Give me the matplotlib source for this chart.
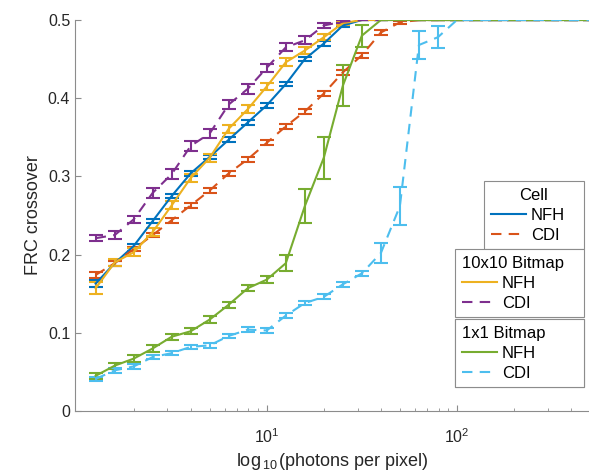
import numpy as np
import matplotlib
matplotlib.use("Agg")
import matplotlib.pyplot as plt
from matplotlib.lines import Line2D

plt.rcParams['font.family'] = ['Liberation Sans', 'DejaVu Sans']
plt.rcParams['mathtext.fontset'] = 'custom'
plt.rcParams['mathtext.rm'] = 'Liberation Sans'

# --- Data (photons per pixel = 10^(k/10), k = 1..27) ---
photons = 10 ** (np.arange(1, 28) / 10)

cell_nfh = [0.163, 0.189, 0.211, 0.243, 0.275, 0.304, 0.325, 0.347, 0.369, 0.391,
            0.418, 0.450, 0.470, 0.493] + [0.5] * 13
cell_nfh_err = [0.004, 0.003, 0.003, 0.003, 0.003, 0.003, 0.003, 0.003, 0.003, 0.003,
                0.003, 0.003, 0.003, 0.002] + [0.0] * 13

cell_cdi = [0.174, 0.189, 0.207, 0.225, 0.244, 0.263, 0.282, 0.304, 0.322, 0.343,
            0.364, 0.383, 0.406, 0.433, 0.455, 0.484, 0.497] + [0.5] * 10
cell_cdi_err = [0.004, 0.003, 0.003, 0.003, 0.003, 0.003, 0.003, 0.003, 0.003, 0.003,
                0.003, 0.003, 0.003, 0.003, 0.003, 0.003, 0.002] + [0.0] * 10

bm10_nfh = [0.157, 0.190, 0.203, 0.229, 0.263, 0.298, 0.324, 0.361, 0.386, 0.415,
            0.446, 0.461, 0.478, 0.496] + [0.5] * 13
bm10_nfh_err = [0.008, 0.004, 0.005, 0.005, 0.005, 0.005, 0.005, 0.005, 0.005, 0.005,
                0.005, 0.004, 0.004, 0.002] + [0.0] * 13

bm10_cdi = [0.221, 0.225, 0.245, 0.279, 0.303, 0.339, 0.355, 0.392, 0.412, 0.439,
            0.465, 0.474, 0.493, 0.498] + [0.5] * 13
bm10_cdi_err = [0.004, 0.005, 0.005, 0.006, 0.006, 0.006, 0.006, 0.006, 0.006, 0.005,
                0.005, 0.005, 0.003, 0.002] + [0.0] * 13

bm1_nfh = [0.045, 0.058, 0.067, 0.080, 0.095, 0.102, 0.117, 0.136, 0.157, 0.168,
           0.189, 0.262, 0.324, 0.416, 0.480] + [0.5] * 12
bm1_nfh_err = [0.004, 0.004, 0.004, 0.004, 0.004, 0.004, 0.004, 0.004, 0.004, 0.004,
               0.010, 0.022, 0.027, 0.026, 0.014] + [0.0] * 12

bm1_cdi = [0.041, 0.052, 0.057, 0.069, 0.074, 0.082, 0.084, 0.096, 0.104, 0.103,
           0.122, 0.138, 0.146, 0.162, 0.176, 0.202, 0.262, 0.468, 0.478] + [0.5] * 8
bm1_cdi_err = [0.003, 0.003, 0.003, 0.003, 0.003, 0.003, 0.003, 0.003, 0.003, 0.003,
               0.003, 0.003, 0.003, 0.003, 0.003, 0.013, 0.024, 0.018, 0.014] + [0.0] * 8

c_blue = '#0072BD'
c_orange = '#D95319'
c_yellow = '#EDB120'
c_purple = '#7E2F8E'
c_green = '#77AC30'
c_lblue = '#4DBEEE'
dash = (0, (5, 3.5))

series = [
    (cell_nfh, cell_nfh_err, c_blue, '-'),
    (cell_cdi, cell_cdi_err, c_orange, dash),
    (bm10_nfh, bm10_nfh_err, c_yellow, '-'),
    (bm10_cdi, bm10_cdi_err, c_purple, dash),
    (bm1_nfh, bm1_nfh_err, c_green, '-'),
    (bm1_cdi, bm1_cdi_err, c_lblue, dash),
]

# --- Plot ---
fig = plt.figure(figsize=(5.89, 4.71), dpi=100)
ax = fig.add_axes([75 / 589, 60 / 471, 514 / 589, 391 / 471])

for y, e, c, ls in series:
    cont = ax.errorbar(photons, y, yerr=e, color=c, lw=1.5, capsize=5,
                       capthick=1.5, elinewidth=1.5)
    cont[0].set_linestyle(ls)

ax.set_xscale('log')
ax.set_xlim(0.98, 495)
ax.set_ylim(0, 0.5)
ax.set_yticks([0, 0.1, 0.2, 0.3, 0.4, 0.5])
ax.set_yticklabels(['0', '0.1', '0.2', '0.3', '0.4', '0.5'])
ax.set_xticks([10, 100])

for s in ['top', 'right']:
    ax.spines[s].set_visible(False)
for s in ['left', 'bottom']:
    ax.spines[s].set_color('#8c8c8c')
    ax.spines[s].set_linewidth(0.8)
ax.tick_params(which='both', direction='in', colors='#8c8c8c', labelcolor='#262626',
               labelsize=11.5)
ax.tick_params(which='major', length=4)
ax.tick_params(which='minor', length=2.5)
ax.tick_params(axis='x', pad=12)

ax.set_ylabel('FRC crossover', fontsize=13, color='#262626')
ax.set_xlabel(r'log$_{\,10\,}$(photons per pixel)', fontsize=13, color='#262626', labelpad=3)


def make_legend(title, c1, c2, x0, w, top, align):
    h = [Line2D([], [], color=c1, lw=1.5), Line2D([], [], color=c2, lw=1.5, ls=dash)]
    leg = ax.legend(h, ['NFH', 'CDI'], title=title, loc='upper left',
                    bbox_to_anchor=(x0, top - 0.3, w, 0.3), mode='expand',
                    fontsize=12, title_fontsize=12, frameon=True, fancybox=False,
                    edgecolor='#8c8c8c', framealpha=1, borderpad=0.4,
                    labelspacing=0.3, handlelength=2.1, handletextpad=0.3,
                    borderaxespad=0)
    leg.get_frame().set_linewidth(0.8)
    leg._legend_box.align = align
    ax.add_artist(leg)
    return leg


make_legend('Cell', c_blue, c_orange, (484 - 75) / 514, 100 / 514, (411 - 181) / 391, 'center')
make_legend('10x10 Bitmap', c_yellow, c_purple, (455 - 75) / 514, 129 / 514, (411 - 249) / 391, 'left')
make_legend('1x1 Bitmap', c_green, c_lblue, (455 - 75) / 514, 129 / 514, (411 - 319) / 391, 'left')

fig.savefig('out.png', dpi=100)
